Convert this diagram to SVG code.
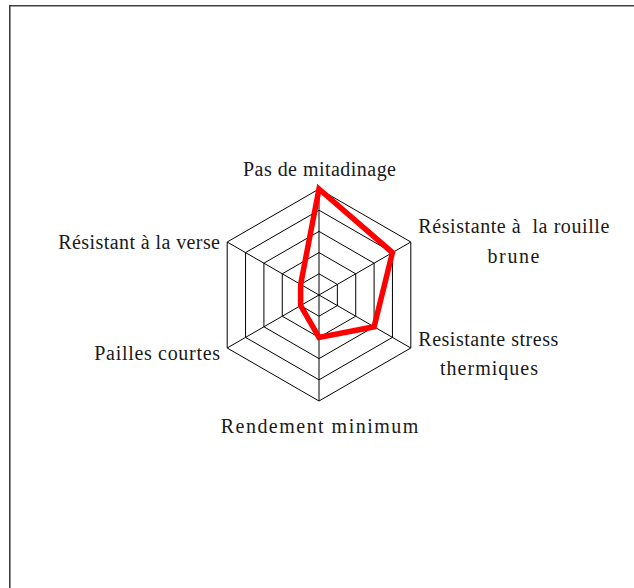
<svg xmlns="http://www.w3.org/2000/svg" width="634" height="588" viewBox="0 0 634 588">
<style>
.grid{fill:none;stroke:#000;stroke-width:1}
.lbl{font-family:"Liberation Serif","Times New Roman",serif;font-size:20px;fill:#1a1a1a}
.mid{text-anchor:middle}
.end{text-anchor:end}
.series{fill:none;stroke:#ff0000;stroke-width:5.5;stroke-linejoin:miter}
.frame{stroke:#404040;stroke-width:1.6}
</style>
<rect width="634" height="588" fill="#fff"/>
<g id="frame">
<line class="frame" x1="9.8" y1="5.8" x2="634" y2="5.8"/>
<line class="frame" x1="9.8" y1="5" x2="9.8" y2="588"/>
</g>
<g id="grid">
<polygon class="grid" points="319,273.8 337.36,284.4 337.36,305.6 319,316.2 300.64,305.6 300.64,284.4"/>
<polygon class="grid" points="319,252.6 355.72,273.8 355.72,316.2 319,337.4 282.28,316.2 282.28,273.8"/>
<polygon class="grid" points="319,231.4 374.08,263.2 374.08,326.8 319,358.6 263.92,326.8 263.92,263.2"/>
<polygon class="grid" points="319,210.2 392.44,252.6 392.44,337.4 319,379.8 245.56,337.4 245.56,252.6"/>
<polygon class="grid" points="319,189 410.8,242 410.8,348 319,401 227.2,348 227.2,242"/>
<line class="grid" x1="319" y1="295" x2="319" y2="189"/>
<line class="grid" x1="319" y1="295" x2="410.8" y2="242"/>
<line class="grid" x1="319" y1="295" x2="410.8" y2="348"/>
<line class="grid" x1="319" y1="295" x2="319" y2="401"/>
<line class="grid" x1="319" y1="295" x2="227.2" y2="348"/>
<line class="grid" x1="319" y1="295" x2="227.2" y2="242"/>
</g>
<g id="series">
<polygon class="series" points="319,189 392.44,252.6 374.08,326.8 319,337.4 300.64,305.6 300.64,284.4"/>
</g>
<g id="labels">
<text class="lbl mid" x="319.5" y="176" textLength="153" lengthAdjust="spacing">Pas de mitadinage</text>
<text class="lbl mid" x="513.8" y="233" textLength="191" lengthAdjust="spacing" xml:space="preserve">Résistante à  la rouille</text>
<text class="lbl mid" x="513.5" y="262.5" textLength="52" lengthAdjust="spacing">brune</text>
<text class="lbl mid" x="488.3" y="346" textLength="140" lengthAdjust="spacing">Resistante stress</text>
<text class="lbl mid" x="489" y="374.5" textLength="98" lengthAdjust="spacing">thermiques</text>
<text class="lbl mid" x="319.5" y="432.5" textLength="197.5" lengthAdjust="spacing">Rendement minimum</text>
<text class="lbl end" x="220" y="360" textLength="125.7" lengthAdjust="spacing">Pailles courtes</text>
<text class="lbl end" x="220" y="249.3" textLength="161.7" lengthAdjust="spacing">Résistant à la verse</text>
</g>
</svg>
